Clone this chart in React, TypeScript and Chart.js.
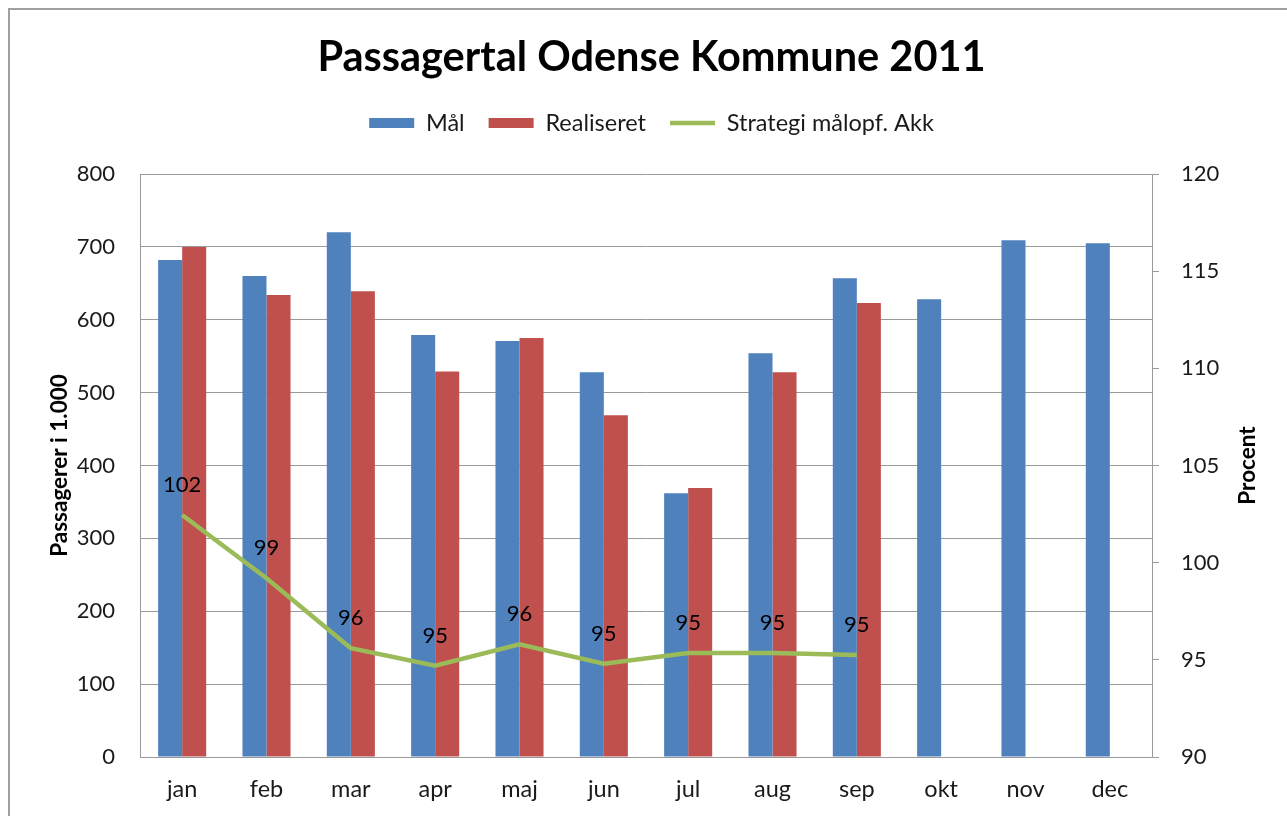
import React, { useEffect, useRef } from "react";
import { Chart, registerables } from "chart.js";

Chart.register(...registerables);

const months = ["jan", "feb", "mar", "apr", "maj", "jun", "jul", "aug", "sep", "okt", "nov", "dec"];
const maal = [682, 660, 720, 579, 571, 528, 362, 554, 657, 628, 709, 705];
const realiseret = [700, 634, 639, 529, 575, 469, 369, 528, 623, null, null, null];
const strategi = [102.45, 99.2, 95.6, 94.7, 95.8, 94.8, 95.35, 95.35, 95.25, null, null, null];

const FONT = "Lato";
const GRID = "#9a9a9a";
const TEXT = "#1a1a1a";
const PAD_LEFT = 16;

const pointLabels = {
  id: "pointLabels",
  afterDatasetsDraw(chart: any) {
    const ctx = chart.ctx;
    const meta = chart.getDatasetMeta(2);
    const data = chart.data.datasets[2].data;
    ctx.save();
    ctx.font = `22px ${FONT}`;
    ctx.fillStyle = "#000";
    ctx.textAlign = "center";
    ctx.textBaseline = "middle";
    meta.data.forEach((pt: any, i: number) => {
      const v = data[i];
      if (v === null || v === undefined) return;
      ctx.fillText(String(Math.round(v)), pt.x, pt.y - 30);
    });
    ctx.restore();
  },
};

const rightTitle = {
  id: "rightTitle",
  afterDraw(chart: any) {
    const ctx = chart.ctx;
    const area = chart.chartArea;
    ctx.save();
    ctx.translate(1248, (area.top + area.bottom) / 2);
    ctx.rotate(-Math.PI / 2);
    ctx.font = `bold 22.5px ${FONT}`;
    ctx.fillStyle = "#000";
    ctx.textAlign = "center";
    ctx.textBaseline = "middle";
    ctx.fillText("Procent", 0, 0);
    ctx.restore();
  },
};

export default function App() {
  const ref = useRef<HTMLCanvasElement>(null);

  useEffect(() => {
    if (!ref.current) return;
    Chart.defaults.font.family = FONT;
    const chart = new Chart(ref.current, {
      type: "bar",
      data: {
        labels: months,
        datasets: [
          {
            type: "bar",
            label: "Mål",
            data: maal,
            backgroundColor: "#4F81BD",
            borderWidth: 0,
            pointStyle: "rect",
            categoryPercentage: 0.57,
            barPercentage: 1.0,
            yAxisID: "y",
            order: 1,
          },
          {
            type: "bar",
            label: "Realiseret",
            data: realiseret,
            backgroundColor: "#C0504D",
            borderWidth: 0,
            pointStyle: "rect",
            categoryPercentage: 0.57,
            barPercentage: 1.0,
            yAxisID: "y",
            order: 1,
          },
          {
            type: "line",
            label: "Strategi målopf. Akk",
            data: strategi,
            borderColor: "#9BBB59",
            backgroundColor: "#9BBB59",
            borderWidth: 4.5,
            pointRadius: 0,
            pointStyle: "line",
            tension: 0,
            yAxisID: "y1",
            order: 0,
          },
        ],
      } as any,
      options: {
        animation: false,
        responsive: false,
        maintainAspectRatio: false,
        layout: { padding: { left: PAD_LEFT, right: 0, top: 0, bottom: 0 } },
        plugins: {
          title: {
            display: true,
            text: "Passagertal Odense Kommune 2011",
            color: "#000",
            font: { family: FONT, size: 41.5, weight: "bold" },
            padding: { top: 33.1, bottom: 4.35 },
          },
          subtitle: {
            display: true,
            text: "",
            weight: 500,
            font: { size: 10 },
            padding: { top: 0, bottom: 17.25 },
          } as any,
          legend: {
            display: true,
            position: "top",
            labels: {
              usePointStyle: true,
              pointStyleWidth: 45,
              boxHeight: 10,
              padding: 24,
              color: TEXT,
              font: { family: FONT, size: 23.5 },
              sort: (a: any, b: any) => a.datasetIndex - b.datasetIndex,
            },
          },
          tooltip: { enabled: false },
        },
        scales: {
          x: {
            grid: { display: false, drawTicks: false },
            border: { display: true, color: GRID, width: 1 },
            ticks: { color: TEXT, font: { family: FONT, size: 23.5 }, padding: 18 },
            afterFit(scale: any) {
              scale.height = 59;
            },
          },
          y: {
            position: "left",
            min: 0,
            max: 800,
            ticks: { stepSize: 100, color: TEXT, font: { family: FONT, size: 22 }, padding: 25 },
            grid: { color: GRID, drawTicks: false, lineWidth: 1 },
            border: { display: true, color: GRID, width: 1 },
            title: {
              display: true,
              text: "Passagerer i 1.000",
              color: "#000",
              font: { family: FONT, size: 22.5, weight: "bold" },
              padding: { top: 46.5 - PAD_LEFT, bottom: 0 },
            },
            afterFit(scale: any) {
              scale.width = 140 - PAD_LEFT;
            },
          },
          y1: {
            position: "right",
            min: 90,
            max: 120,
            ticks: { stepSize: 5, color: TEXT, font: { family: FONT, size: 22 }, padding: 22 },
            grid: { drawOnChartArea: false, drawTicks: true, tickLength: 7, color: GRID },
            border: { display: true, color: GRID, width: 1 },
            afterFit(scale: any) {
              scale.width = 135;
            },
          },
        },
      } as any,
      plugins: [pointLabels, rightTitle],
    });
    return () => chart.destroy();
  }, []);

  return (
    <div style={{ position: "fixed", left: 0, top: 0, width: 1287, height: 816, overflow: "hidden", background: "#fff" }}>
      <div
        style={{
          position: "absolute",
          left: 8,
          top: 8,
          width: 1300,
          height: 830,
          borderLeft: "2px solid #a0a0a0",
          borderTop: "2px solid #a0a0a0",
          boxSizing: "border-box",
        }}
      />
      <canvas ref={ref} width={1287} height={816} style={{ position: "absolute", left: 0, top: 0 }} />
    </div>
  );
}
